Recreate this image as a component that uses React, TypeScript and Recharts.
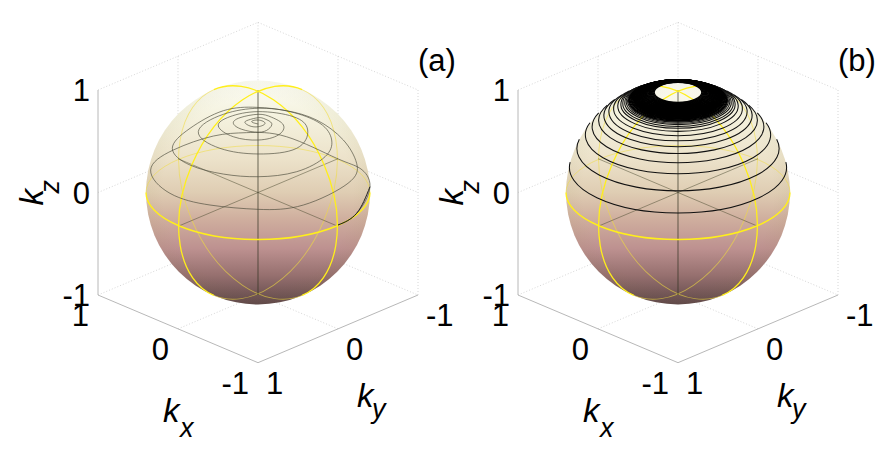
import React from 'react';
import { ScatterChart, Scatter, XAxis, YAxis } from 'recharts';

// tick values on the three box axes
const kzTicks = [-1, 0, 1];
const kxTicks = [1, 0, -1];
const kyTicks = [1, 0, -1];

// box edges and grid, as kx, ky, kz end points
const boxSolid = [
  [[1, 1, 1], [1, 1, -1]],
  [[1, 1, -1], [-1, 1, -1]],
  [[-1, 1, -1], [-1, -1, -1]],
];
const boxDotted = [
  [[1, 1, 1], [1, -1, 1]],
  [[1, -1, 1], [-1, -1, 1]],
  [[-1, -1, 1], [-1, -1, -1]],
  [[1, -1, 1], [1, -1, -1]],
  [[1, 0, 1], [1, 0, -1]],
  [[0, -1, 1], [0, -1, -1]],
  [[1, 1, 0], [1, -1, 0]],
  [[1, -1, 0], [-1, -1, 0]],
  [[1, 1, -1], [1, -1, -1]],
  [[1, -1, -1], [-1, -1, -1]],
  [[0, 1, -1], [0, -1, -1]],
  [[-1, 0, -1], [1, 0, -1]],
];
const sphereAxes = [
  [[1, 0, 0], [-1, 0, 0]],
  [[0, 1, 0], [0, -1, 0]],
];
const polarAxis = [[0, 0, 1], [0, 0, -1]];

// panel (a): the trajectory as seen on the page
const spiralU = [
  1.0, 1.233, 1.4, 1.275, 0.983, 0.358, -0.142, -0.558, -1.058, -1.342, -1.1, -0.6, 0, 0.567, 1.125, 1.233,
  1.067, 0.733, 0.358, -0.017, -0.433, -0.85, -1.071, -0.85, -0.433, 0.004, 0.483, 0.838, 0.921, 0.775, 0.4, 0.004,
  -0.433, -0.746, -0.475, 0.004, 0.483, 0.621, 0.441, 0.004, -0.35, -0.496, -0.308, 0.004, 0.254, 0.317, 0.171, 0.004,
  -0.225, -0.308, -0.204, 0.004, 0.129, 0.171, 0.088, 0.004, -0.121, -0.163, -0.1, 0.004, 0.088, 0.004, -0.079, 0.004,
];
const spiralV = [
  -0.317, -0.203, 0.057, 0.236, 0.334, 0.544, 0.584, 0.551, 0.415, 0.22, -0.008, -0.122, -0.164, -0.122, 0.09, 0.285,
  0.512, 0.707, 0.798, 0.831, 0.798, 0.626, 0.431, 0.268, 0.18, 0.154, 0.203, 0.349, 0.512, 0.675, 0.789, 0.822,
  0.763, 0.595, 0.431, 0.376, 0.431, 0.61, 0.74, 0.789, 0.74, 0.649, 0.544, 0.512, 0.561, 0.659, 0.734, 0.763,
  0.73, 0.675, 0.617, 0.588, 0.617, 0.675, 0.717, 0.73, 0.707, 0.681, 0.649, 0.642, 0.675, 0.707, 0.691, 0.668,
];

// panel (b): heights of the trajectory turns
const ringKz = [0.245, 0.43, 0.562, 0.642, 0.705, 0.75, 0.787, 0.818, 0.843, 0.86, 0.87, 0.88, 0.887, 0.893, 0.897];
const denseKz = [
  0.9, 0.904, 0.908, 0.911, 0.914, 0.917, 0.919, 0.921, 0.923, 0.925, 0.927, 0.929, 0.931, 0.933, 0.935, 0.937,
  0.939, 0.941, 0.943, 0.945, 0.947, 0.949, 0.951, 0.953, 0.955, 0.957, 0.959, 0.961, 0.963, 0.965, 0.967, 0.969,
  0.971, 0.973, 0.975, 0.977,
];
const meridianTilts = [23.2, -23.2];

const WIDTH = 466;
const HEIGHT = 453;
const LEFT = 98;
const U_DOMAIN = [-2, 2.6];
const V_DOMAIN = [-2.541, 1.878];
const SPHERE_R = 112;
const EQUATOR_RY = 47;
const TAN_EL = 0.459;
const FONT = '"Liberation Sans", Arial, sans-serif';

const project = ([kx, ky, kz]: number[]) => ({ u: -(kx + ky), v: kz + (kx - ky) * 0.33 });

const Nothing = () => <g />;

const segment = (key: string, pts: any[], style: any, joint = 'linear') => (
  <Scatter
    key={key}
    data={pts}
    line={style}
    lineJointType={joint as any}
    shape={Nothing as any}
    isAnimationActive={false}
  />
);

// one turn at height kz, projected on the page: visible arc or hidden arc
const ringPath = (cx: number, cy: number, kz: number, back: boolean) => {
  const s = Math.sqrt(1 - kz * kz);
  const rx = SPHERE_R * s;
  const ry = EQUATOR_RY * s;
  const c = (-kz * TAN_EL) / s;
  if (c <= -1) {
    return `M ${cx - rx} ${cy} A ${rx} ${ry} 0 1 0 ${cx + rx} ${cy} A ${rx} ${ry} 0 1 0 ${cx - rx} ${cy}`;
  }
  const dx = rx * Math.sqrt(1 - c * c);
  const y = cy + ry * c;
  const large = kz > 0 ? 1 : 0;
  return `M ${cx - dx} ${y} A ${rx} ${ry} 0 ${back ? 1 - large : large} ${back ? 1 : 0} ${cx + dx} ${y}`;
};

const rings = (key: string, heights: number[], style: any, back = false) => (
  <Scatter
    key={key}
    data={heights.map((kz) => ({ u: 0, v: kz, kz }))}
    isAnimationActive={false}
    shape={(p: any) => <path d={ringPath(p.cx, p.cy, p.payload.kz, back)} fill="none" {...style} />}
  />
);

const meridians = (key: string, back: boolean, style: any) => (
  <Scatter
    key={key}
    data={meridianTilts.map((tilt) => ({ u: 0, v: 0, tilt }))}
    isAnimationActive={false}
    shape={(p: any) => {
      const left = p.payload.tilt > 0;
      const sweep = left === back ? 1 : 0;
      return (
        <path
          d={`M 0 ${-SPHERE_R} A 71.7 ${SPHERE_R} 0 0 ${sweep} 0 ${SPHERE_R}`}
          transform={`translate(${p.cx} ${p.cy}) rotate(${p.payload.tilt})`}
          fill="none"
          {...style}
        />
      );
    }}
  />
);

const textAt = (key: string, at: { u: number; v: number }, text: string, attrs: any) => (
  <Scatter
    key={key}
    data={[at]}
    isAnimationActive={false}
    shape={(p: any) => {
      const x = p.cx + (attrs.dx || 0);
      const y = p.cy + (attrs.dy || 0);
      return (
        <text
          x={x}
          y={y}
          fontFamily={FONT}
          fill="#000"
          fontSize={attrs.size || 31}
          fontStyle={attrs.italic ? 'italic' : 'normal'}
          textAnchor={attrs.anchor || 'start'}
          transform={attrs.rotate ? `rotate(${attrs.rotate} ${x} ${y})` : undefined}
        >
          {text}
        </text>
      );
    }}
  />
);

const Panel = ({ id, tag, left }: { id: string; tag: string; left: number }) => {
  const spiral = spiralU.map((u, i) => ({ u, v: spiralV[i] }));
  return (
    <div style={{ position: 'absolute', left, top: 0, width: WIDTH, height: HEIGHT }}>
      <ScatterChart width={WIDTH} height={HEIGHT} margin={{ top: 0, right: 0, bottom: 0, left: 0 }}>
        <defs>
          <linearGradient id={`shade-${id}`} x1="0" y1="0" x2="0" y2="1">
            <stop offset="0" stopColor="#fcfcf5" />
            <stop offset="0.15" stopColor="#f5f3e0" />
            <stop offset="0.35" stopColor="#ece2ca" />
            <stop offset="0.5" stopColor="#dfcdb3" />
            <stop offset="0.62" stopColor="#cfae9e" />
            <stop offset="0.75" stopColor="#bd9190" />
            <stop offset="0.87" stopColor="#96706f" />
            <stop offset="1" stopColor="#5f4749" />
          </linearGradient>
          <radialGradient id={`limb-${id}`} cx="0.5" cy="0.5" r="0.5">
            <stop offset="0.85" stopColor="#7a7a30" stopOpacity="0" />
            <stop offset="1" stopColor="#7a7a30" stopOpacity="0.05" />
          </radialGradient>
        </defs>
        <XAxis type="number" dataKey="u" domain={U_DOMAIN} hide />
        <YAxis
          type="number"
          dataKey="v"
          domain={V_DOMAIN}
          ticks={kzTicks}
          interval={0}
          width={LEFT}
          axisLine={false}
          tickLine={false}
          tickSize={0}
          tickMargin={8}
          tick={{ fontSize: 31, fontFamily: FONT, fill: '#000' }}
        />
        {boxDotted.map((s, i) =>
          segment(`d${i}`, s.map(project), { stroke: '#cccccc', strokeWidth: 0.8, strokeDasharray: '1 2' }),
        )}
        {boxSolid.map((s, i) => segment(`s${i}`, s.map(project), { stroke: '#b8b8b8', strokeWidth: 1 }))}
        <Scatter
          data={[{ u: 0, v: 0 }]}
          isAnimationActive={false}
          shape={(p: any) => (
            <g>
              <circle cx={p.cx} cy={p.cy} r={SPHERE_R} fill={`url(#shade-${id})`} />
              <circle cx={p.cx} cy={p.cy} r={SPHERE_R} fill={`url(#limb-${id})`} />
            </g>
          )}
        />
        {meridians('mb', true, { stroke: '#f0dc40', strokeOpacity: 0.6, strokeWidth: 0.9 })}
        {rings('eb', [0], { stroke: '#f0dc40', strokeOpacity: 0.6, strokeWidth: 0.9 }, true)}
        {sphereAxes.map((s, i) =>
          segment(`a${i}`, s.map(project), { stroke: '#4a4a30', strokeOpacity: 0.5, strokeWidth: 1 }),
        )}
        {segment('pole', polarAxis.map(project), { stroke: '#333322', strokeOpacity: 0.55, strokeWidth: 1.3 })}
        {meridians('mf', false, { stroke: '#ffef1a', strokeWidth: 1.3 })}
        {rings('ef', [0], { stroke: '#ffef1a', strokeWidth: 1.4 })}
        {id === 'a' &&
          segment('spiral', spiral, { stroke: '#4a4a3a', strokeOpacity: 0.65, strokeWidth: 1 }, 'natural')}
        {id === 'a' && segment('spiralStart', spiral.slice(0, 3), { stroke: '#222', strokeWidth: 1 }, 'natural')}
        {id === 'b' && rings('turns', ringKz, { stroke: '#111', strokeWidth: 1.05 })}
        {id === 'b' && rings('dense', denseKz, { stroke: '#000', strokeWidth: 1.4 })}
        {kxTicks.map((t) => textAt(`x${t}`, project([t, 1, -1]), String(t), { anchor: 'end', dx: -9, dy: 31 }))}
        {kyTicks.map((t) => textAt(`y${t}`, project([-1, t, -1]), String(t), { anchor: 'start', dx: 8, dy: 31 }))}
        {textAt('kz', { u: -2, v: 0 }, 'k', { italic: true, size: 33, rotate: -90, dx: -55, dy: 13 })}
        {textAt('kz2', { u: -2, v: 0 }, 'z', { italic: true, size: 27, rotate: -90, dx: -39, dy: 1 })}
        {textAt('kx', { u: -1, v: -1.67 }, 'k', { italic: true, size: 33, dx: -15, dy: 58 })}
        {textAt('kx2', { u: -1, v: -1.67 }, 'x', { italic: true, size: 27, dx: 2, dy: 73 })}
        {textAt('ky', { u: 1, v: -1.67 }, 'k', { italic: true, size: 33, dx: 19, dy: 43 })}
        {textAt('ky2', { u: 1, v: -1.67 }, 'y', { italic: true, size: 27, dx: 34, dy: 54 })}
        {textAt('tag', { u: 2, v: 1.2 }, tag, { dy: 1 })}
      </ScatterChart>
    </div>
  );
};

export default function App() {
  return (
    <div style={{ position: 'absolute', left: 0, top: 0, width: 886, height: 453, background: '#fff', overflow: 'hidden' }}>
      <Panel id="a" tag="(a)" left={0} />
      <Panel id="b" tag="(b)" left={420} />
    </div>
  );
}
